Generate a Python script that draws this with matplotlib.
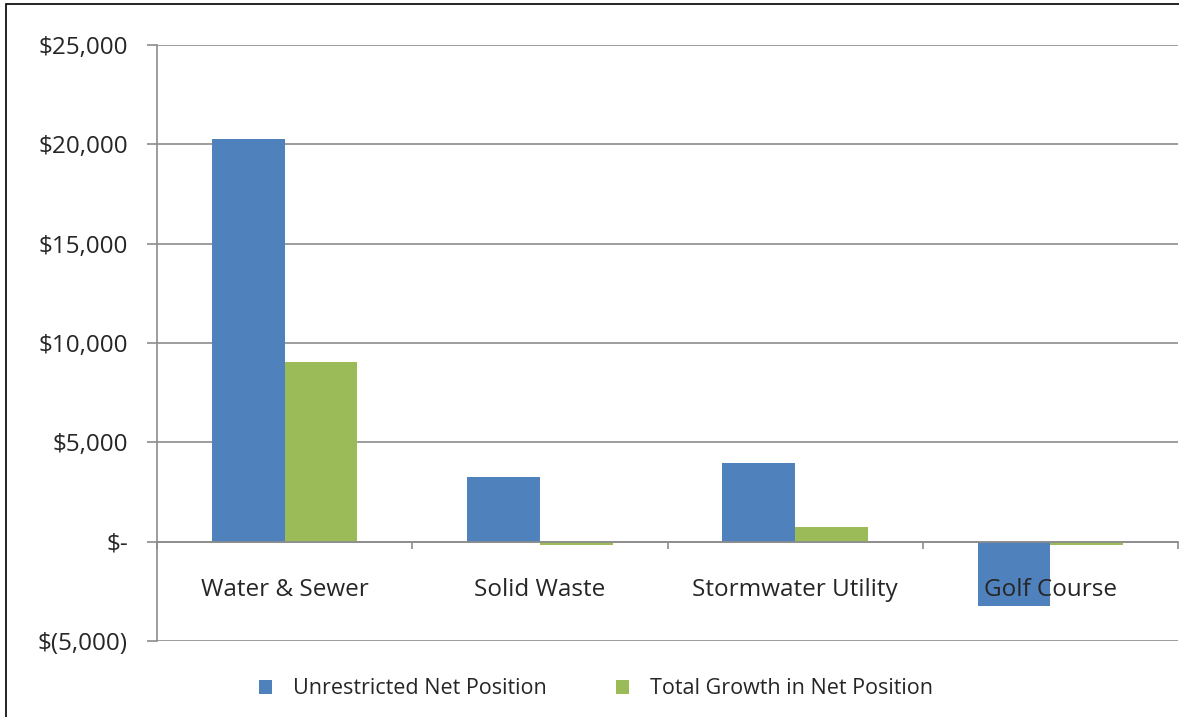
import matplotlib

matplotlib.use("Agg")
import matplotlib.pyplot as plt
import numpy as np
from matplotlib.patches import Rectangle
from matplotlib.ticker import FuncFormatter

categories = ["Water & Sewer", "Solid Waste", "Stormwater Utility", "Golf Course"]
unrestricted = [20250, 3250, 3950, -3250]
growth = [9050, -150, 725, -150]
series_names = ["Unrestricted Net Position", "Total Growth in Net Position"]
yticks = [-5000, 0, 5000, 10000, 15000, 20000, 25000]

BLUE = "#4F81BD"
GREEN = "#9BBB59"
GRID = "#8c8c8c"
TEXT = "#262626"

plt.rcParams["font.family"] = ["Open Sans", "DejaVu Sans"]


def money(v, pos):
    if v == 0:
        return "$-"
    if v < 0:
        return "$({:,.0f})".format(-v)
    return "${:,.0f}".format(v)


fig = plt.figure(figsize=(11.79, 7.17), dpi=100)
ax = fig.add_axes([157 / 1179, 1 - 641 / 717, 1021 / 1179, (641 - 45) / 717])

x = np.arange(len(categories))
w = 0.285
ax.bar(x - w / 2, unrestricted, w, color=BLUE, label=series_names[0], zorder=3)
ax.bar(x + w / 2, growth, w, color=GREEN, label=series_names[1], zorder=3)

ax.set_xlim(-0.5, len(categories) - 0.5)
ax.set_ylim(-5000, 25000)
ax.set_yticks(yticks)
ax.yaxis.set_major_formatter(FuncFormatter(money))
ax.grid(axis="y", color=GRID, linewidth=1.2)
# grid behind the bars, category labels in front of them
ax.yaxis.set_zorder(1)
ax.xaxis.set_zorder(5)

for s in ["top", "right"]:
    ax.spines[s].set_visible(False)
ax.spines["left"].set_color(GRID)
ax.spines["left"].set_linewidth(1.2)
ax.spines["left"].set_zorder(1)
ax.spines["bottom"].set_position(("data", 0))
ax.spines["bottom"].set_color(GRID)
ax.spines["bottom"].set_linewidth(1.2)
ax.spines["bottom"].set_zorder(4)

ax.set_xticks(x)
ax.set_xticklabels(categories)
ax.set_xticks(np.arange(len(categories) + 1) - 0.5, minor=True)
ax.tick_params(axis="x", which="major", length=0, pad=26, labelsize=17.5, labelcolor=TEXT)
ax.tick_params(axis="x", which="minor", length=5, width=1.2, color=GRID, direction="out")
ax.tick_params(axis="y", length=7, width=1.2, color=GRID, pad=14, labelsize=17.5, labelcolor=TEXT)

ax.legend(loc="upper center", bbox_to_anchor=(0.43, -0.03), ncol=2, frameon=False,
          fontsize=15.5, handlelength=0.6, handleheight=0.6, columnspacing=3.2,
          handletextpad=1.0, labelcolor=TEXT)

fig.patches.append(Rectangle((6 / 1179, -0.1), 1.2, 1.1 - 4 / 717, transform=fig.transFigure,
                             fill=False, edgecolor="black", linewidth=1.2))

fig.savefig("out.png", dpi=100)
plt.close(fig)
